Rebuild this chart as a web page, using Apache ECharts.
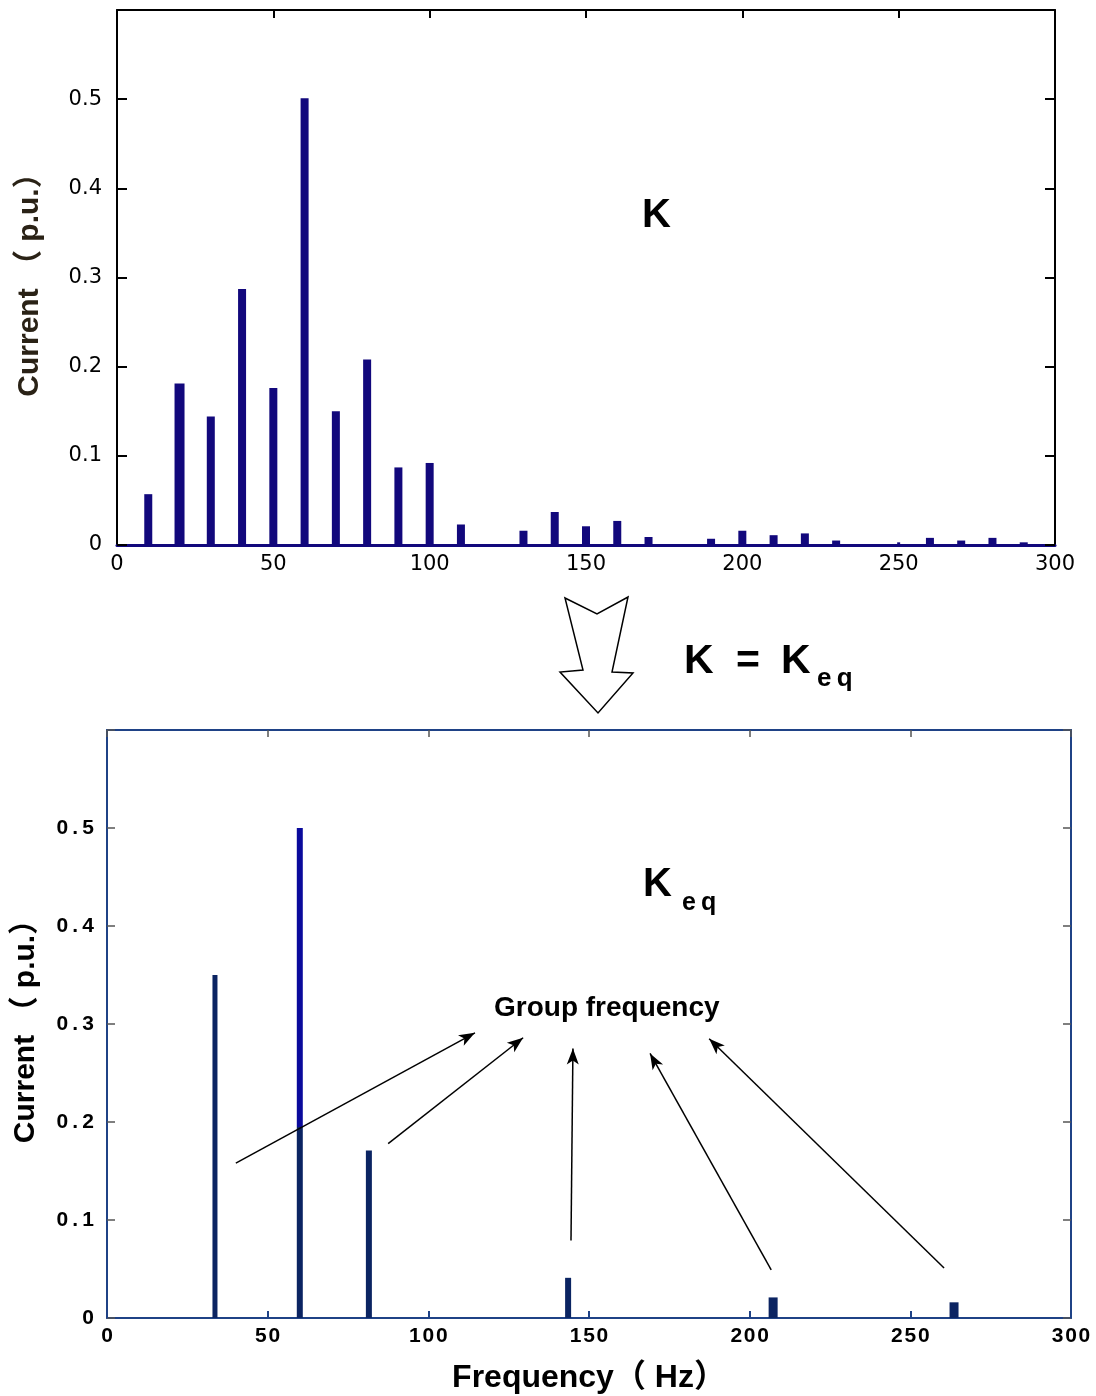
<!DOCTYPE html>
<html>
<head>
<meta charset="utf-8">
<script src="https://cdn.jsdelivr.net/npm/echarts@6/dist/echarts.min.js"></script>
<style>
  html, body { margin: 0; padding: 0; background: #fff; }
  #chart { width: 1096px; height: 1396px; }
</style>
</head>
<body>
<div id="chart"></div>
<script>
// spectrum before grouping (K)
const kFreq = [10, 20, 30, 40, 50, 60, 70, 80, 90, 100, 110, 130, 140, 150, 160, 170,
  190, 200, 210, 220, 230, 250, 260, 270, 280, 290]
const kCurrent = [0.057, 0.181, 0.144, 0.287, 0.176, 0.501, 0.150, 0.208, 0.087, 0.092, 0.023,
  0.016, 0.037, 0.021, 0.027, 0.009, 0.007, 0.016, 0.011, 0.013, 0.005, 0.003, 0.008, 0.005, 0.008, 0.003]

// equivalent spectrum (Keq)
const keqFreq = [33.6, 60, 81.5, 143.5, 207.3, 263.6]
const keqCurrent = [0.35, 0.5, 0.171, 0.041, 0.021, 0.016]

const xTicks = [0, 50, 100, 150, 200, 250, 300]
const yTicks = [0, 0.1, 0.2, 0.3, 0.4, 0.5]

// "Group frequency" arrows, from -> to, in data units of the lower chart
const groupArrows = [
  [[40.1, 0.158], [114.5, 0.291]],
  [[87.5, 0.178], [129.5, 0.286]],
  [[144.4, 0.079], [145.0, 0.275]],
  [[206.7, 0.049], [169.0, 0.270]],
  [[260.5, 0.051], [187.4, 0.285]]
]

const font = '"Liberation Sans", Arial, "Noto Sans CJK SC", sans-serif'
const tickFont = '"DejaVu Sans", "Liberation Sans", sans-serif'
const kColor = '#12087c'
const keqColor = '#0b2462'
const keqBlue = '#0a0a9c'
const keqAxis = '#1f4286'
const keqWidths = [5, 6, 6, 6, 9, 9]

const chart = echarts.init(document.getElementById('chart'))

const stem = (getWidth, getColor) => (params, api) => {
  const x = api.value(0)
  const y = api.value(1)
  const base = api.coord([x, 0])
  const top = api.coord([x, y])
  const w = getWidth(params.dataIndex)
  const rect = (y0, y1, fill) => ({
    type: 'rect',
    shape: { x: base[0] - w / 2, y: y1, width: w, height: y0 - y1 },
    style: { fill }
  })
  // 60 Hz stem in the scan is blue above the arrow crossing and navy below it
  if (getColor(params.dataIndex) === 'split') {
    const mid = api.coord([x, 0.195])
    return { type: 'group', children: [rect(base[1], mid[1], keqColor), rect(mid[1], top[1], keqBlue)] }
  }
  return rect(base[1], top[1], getColor(params.dataIndex))
}

const yFmt = (spaced) => (v) => {
  if (v > 0.55) return ''
  if (v === 0) return '0'
  const s = v.toFixed(1)
  return spaced ? s.split('').join('\u2009') : s
}

const valueAxis = (extra) => Object.assign({
  type: 'value',
  splitLine: { show: false },
  axisTick: { inside: true, length: 9 },
  axisLabel: { show: false }
}, extra)

const option = {
  animation: false,
  backgroundColor: '#fff',
  grid: [
    { left: 117, top: 10, width: 938, height: 535 },
    { left: 107, top: 730, width: 964, height: 588 }
  ],
  xAxis: [
    valueAxis({
      gridIndex: 0, min: 0, max: 300, interval: 50, position: 'bottom',
      axisLine: { show: true, onZero: false, lineStyle: { color: kColor, width: 3 } },
      axisTick: { show: false },
      axisLabel: { show: true, margin: 9, fontFamily: tickFont, fontSize: 21, color: '#000' }
    }),
    valueAxis({
      gridIndex: 0, min: 0, max: 300, interval: 50, position: 'top',
      axisLine: { show: true, onZero: false, lineStyle: { color: '#000', width: 2 } },
      axisTick: { inside: true, length: 8, lineStyle: { color: '#000', width: 2 } }
    }),
    valueAxis({
      gridIndex: 1, min: 0, max: 300, interval: 50, position: 'bottom',
      axisLine: { show: true, onZero: false, lineStyle: { color: keqAxis, width: 2 } },
      axisTick: { inside: true, length: 7, lineStyle: { color: keqAxis, width: 2 } },
      axisLabel: {
        show: true, margin: 8, fontFamily: font, fontSize: 21, fontWeight: 'bold', color: '#000',
        formatter: (v) => String(v).split('').join('\u200A')
      },
      name: 'Frequency（ Hz）', nameLocation: 'middle', nameGap: 44,
      nameTextStyle: { fontFamily: font, fontSize: 32, fontWeight: 'bold', color: '#000' }
    }),
    valueAxis({
      gridIndex: 1, min: 0, max: 300, interval: 50, position: 'top',
      axisLine: { show: true, onZero: false, lineStyle: { color: keqAxis, width: 2 } },
      axisTick: { inside: true, length: 7, lineStyle: { color: '#555', width: 1.5 } }
    })
  ],
  yAxis: [
    valueAxis({
      gridIndex: 0, min: 0, max: 0.6, interval: 0.1, position: 'left',
      axisLine: { show: true, onZero: false, lineStyle: { color: '#000', width: 2 } },
      axisTick: { inside: true, length: 10, lineStyle: { color: '#000', width: 2 } },
      axisLabel: { show: true, margin: 15, fontFamily: tickFont, fontSize: 21, color: '#000', formatter: yFmt(false) },
      name: 'Current （ p.u.）', nameLocation: 'middle', nameGap: 72, nameRotate: 90,
      nameTextStyle: { fontFamily: font, fontSize: 30, fontWeight: 'bold', color: '#2a2216' }
    }),
    valueAxis({
      gridIndex: 0, min: 0, max: 0.6, interval: 0.1, position: 'right',
      axisLine: { show: true, onZero: false, lineStyle: { color: '#000', width: 2 } },
      axisTick: { inside: true, length: 10, lineStyle: { color: '#000', width: 2 } }
    }),
    valueAxis({
      gridIndex: 1, min: 0, max: 0.6, interval: 0.1, position: 'left',
      axisLine: { show: true, onZero: false, lineStyle: { color: keqAxis, width: 2 } },
      axisTick: { inside: true, length: 8, lineStyle: { color: '#555', width: 1.5 } },
      axisLabel: {
        show: true, margin: 13, fontFamily: font, fontSize: 21, fontWeight: 'bold', color: '#000',
        formatter: yFmt(true)
      },
      name: 'Current （ p.u.）', nameLocation: 'middle', nameGap: 66, nameRotate: 90,
      nameTextStyle: { fontFamily: font, fontSize: 30, fontWeight: 'bold', color: '#000' }
    }),
    valueAxis({
      gridIndex: 1, min: 0, max: 0.6, interval: 0.1, position: 'right',
      axisLine: { show: true, onZero: false, lineStyle: { color: keqAxis, width: 2 } },
      axisTick: { inside: true, length: 8, lineStyle: { color: '#555', width: 1.5 } }
    })
  ],
  series: [
    {
      type: 'custom',
      xAxisIndex: 0,
      yAxisIndex: 0,
      data: kFreq.map((f, i) => [f, kCurrent[i]]),
      renderItem: stem((i) => (kFreq[i] === 20 ? 10 : kFreq[i] === 250 ? 3 : 8), () => kColor),
      z: 1
    },
    {
      type: 'custom',
      xAxisIndex: 2,
      yAxisIndex: 2,
      data: keqFreq.map((f, i) => [f, keqCurrent[i]]),
      renderItem: stem((i) => keqWidths[i], (i) => (keqFreq[i] === 60 ? 'split' : keqColor)),
      z: 1
    },
    {
      type: 'line',
      xAxisIndex: 2,
      yAxisIndex: 2,
      data: [],
      z: 5,
      markLine: {
        silent: true,
        animation: false,
        symbol: ['none', 'arrow'],
        symbolSize: [9, 16],
        label: { show: false },
        lineStyle: { color: '#000', width: 1.5, type: 'solid' },
        data: groupArrows.map(([a, b]) => [{ coord: a }, { coord: b }])
      }
    }
  ],
  graphic: [
    {
      type: 'text', left: 642, top: 196,
      style: { text: 'K', fontFamily: font, fontSize: 40, fontWeight: 'bold', fill: '#000' }
    },
    {
      type: 'polygon',
      shape: {
        points: [[565, 598], [597, 614], [628, 597], [612, 672], [633, 673], [598, 713], [560, 672], [583, 670]]
      },
      style: { fill: '#fff', stroke: '#000', lineWidth: 1.5 }
    },
    {
      type: 'text', left: 684, top: 641,
      style: { text: 'K', fontFamily: font, fontSize: 41, fontWeight: 'bold', fill: '#000' }
    },
    {
      type: 'text', left: 736, top: 641,
      style: { text: '=', fontFamily: font, fontSize: 41, fontWeight: 'bold', fill: '#000' }
    },
    {
      type: 'text', left: 781, top: 641,
      style: { text: 'K', fontFamily: font, fontSize: 41, fontWeight: 'bold', fill: '#000' }
    },
    {
      type: 'text', left: 817, top: 666,
      style: { text: 'e\u2009q', fontFamily: font, fontSize: 26, fontWeight: 'bold', fill: '#000' }
    },
    {
      type: 'text', left: 643, top: 865,
      style: { text: 'K', fontFamily: font, fontSize: 40, fontWeight: 'bold', fill: '#000' }
    },
    {
      type: 'text', left: 682, top: 891,
      style: { text: 'e\u2009q', fontFamily: font, fontSize: 25, fontWeight: 'bold', fill: '#000' }
    },
    {
      type: 'text', left: 494, top: 994,
      style: { text: 'Group frequency', fontFamily: font, fontSize: 28, fontWeight: 'bold', fill: '#000' }
    }
  ]
}

chart.setOption(option)
</script>
</body>
</html>
